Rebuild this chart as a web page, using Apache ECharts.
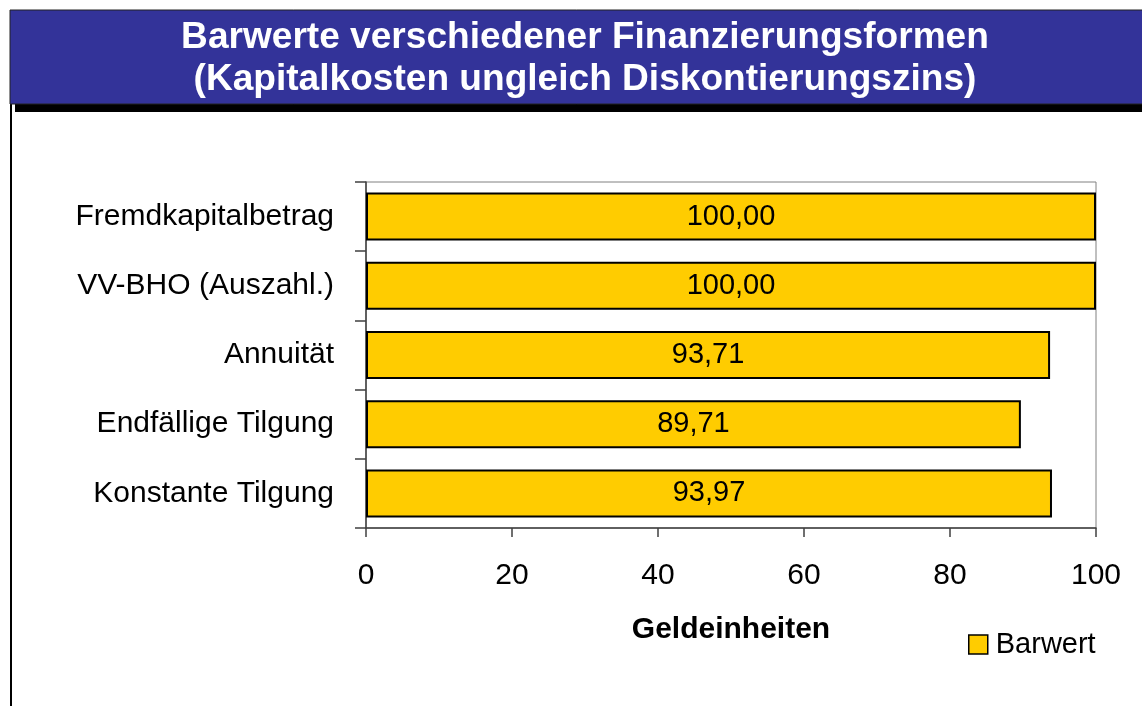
<!DOCTYPE html>
<html><head><meta charset="utf-8">
<script src="https://cdn.jsdelivr.net/npm/echarts@6/dist/echarts.min.js"></script>
<style>html,body{margin:0;padding:0;background:#fff}#c{width:1142px;height:706px}</style>
</head><body><div id="c"></div>
<script>
const categories = ['Fremdkapitalbetrag', 'VV-BHO (Auszahl.)', 'Annuität', 'Endfällige Tilgung', 'Konstante Tilgung'];
const barwert = [100.00, 100.00, 93.71, 89.71, 93.97];
const xTicks = [0, 20, 40, 60, 80, 100];
const titleLines = ['Barwerte verschiedener Finanzierungsformen', '(Kapitalkosten ungleich Diskontierungszins)'];

const FONT = '"Liberation Sans", Arial, sans-serif';
const chart = echarts.init(document.getElementById('c'));
chart.setOption({
  animation: false,
  backgroundColor: '#fff',
  graphic: [
    { type: 'rect', shape: { x: 15, y: 104, width: 1130, height: 8 }, style: { fill: '#000' } },
    { type: 'rect', shape: { x: 10, y: 104, width: 2, height: 602 }, style: { fill: '#000' } },
    { type: 'rect', shape: { x: 10, y: 10, width: 1140, height: 94 }, style: { fill: '#333399', stroke: '#222', lineWidth: 1 } },
    { type: 'text', x: 585, y: 38, scaleX: 1.03, style: { text: titleLines[0], fill: '#fff', font: 'bold 36px ' + FONT, textAlign: 'center', textVerticalAlign: 'middle' } },
    { type: 'text', x: 585, y: 80, scaleX: 1.03, style: { text: titleLines[1], fill: '#fff', font: 'bold 36px ' + FONT, textAlign: 'center', textVerticalAlign: 'middle' } }
  ],
  grid: { left: 366, right: 46, top: 182, bottom: 178, show: true, borderColor: '#808080', borderWidth: 1 },
  legend: {
    data: ['Barwert'], left: 963, top: 625, itemWidth: 19, itemHeight: 19, icon: 'rect',
    textStyle: { fontSize: 29, fontFamily: FONT, color: '#000', padding: [0, 0, 0, 3] },
    itemStyle: { borderColor: '#000', borderWidth: 1.5 }
  },
  xAxis: {
    type: 'value', min: 0, max: 100, interval: 20,
    name: 'Geldeinheiten', nameLocation: 'middle', nameGap: 87,
    nameTextStyle: { fontSize: 30, fontWeight: 'bold', fontFamily: FONT, color: '#000' },
    axisLine: { show: true, lineStyle: { color: '#404040', width: 1.5 } },
    axisTick: { show: true, length: 9, lineStyle: { color: '#404040', width: 1.5 } },
    axisLabel: { fontSize: 30, fontFamily: FONT, color: '#000', margin: 33, formatter: v => xTicks.includes(v) ? String(v) : '' },
    splitLine: { show: false }
  },
  yAxis: {
    type: 'category', data: categories, inverse: true,
    axisLine: { show: true, lineStyle: { color: '#404040', width: 1.5 } },
    axisTick: { show: true, length: 11, lineStyle: { color: '#404040', width: 1.5 } },
    axisLabel: { fontSize: 30, fontFamily: FONT, color: '#000', margin: 32 }
  },
  series: [{
    name: 'Barwert', type: 'bar', data: barwert, barWidth: 48,
    itemStyle: { color: '#FFCC00', borderColor: '#000', borderWidth: 2 },
    label: { show: true, position: 'inside', fontSize: 29, fontFamily: FONT, color: '#000',
      formatter: p => p.value.toFixed(2).replace('.', ',') }
  }]
});
</script></body></html>
